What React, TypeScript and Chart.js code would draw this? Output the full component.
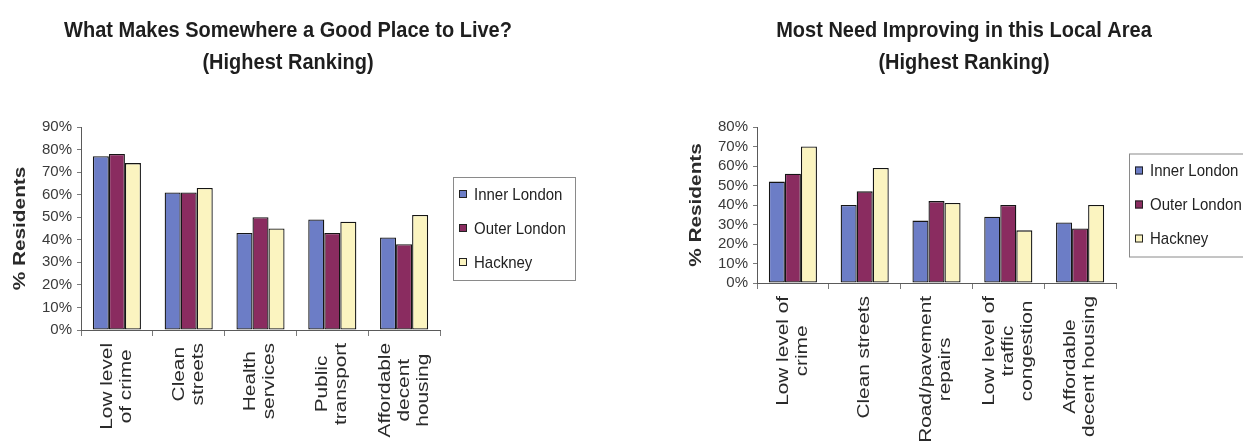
import React, { useEffect, useRef } from "react";
import { Chart, registerables } from "chart.js";

Chart.register(...registerables);

// Series shared by both panels
const SERIES_NAMES = ["Inner London", "Outer London", "Hackney"];
const SERIES_COLORS = ["#6C7DC6", "#8A2C60", "#FBF4C0"];

// Panel 1: what makes somewhere a good place to live
const GOOD_TITLE = ["What Makes Somewhere a Good Place to Live?", "(Highest Ranking)"];
const GOOD_CATEGORIES = [
  ["Low level", "of crime"],
  ["Clean", "streets"],
  ["Health", "services"],
  ["Public", "transport"],
  ["Affordable", "decent", "housing"],
];
const GOOD_INNER = [77, 61, 43, 49, 41];
const GOOD_OUTER = [78, 61, 50, 43, 38];
const GOOD_HACKNEY = [74, 63, 45, 48, 51];
const GOOD_Y_MAX = 90;

// Panel 2: what most needs improving locally
const IMPROVE_TITLE = ["Most Need Improving in this Local Area", "(Highest Ranking)"];
const IMPROVE_CATEGORIES = [
  ["Low level of", "crime"],
  ["Clean streets"],
  ["Road/pavement", "repairs"],
  ["Low level of", "traffic", "congestion"],
  ["Affordable", "decent housing"],
];
const IMPROVE_INNER = [52, 40, 32, 34, 31];
const IMPROVE_OUTER = [56, 47, 42, 40, 28];
const IMPROVE_HACKNEY = [70, 59, 41, 27, 40];
const IMPROVE_Y_MAX = 80;

const Y_TITLE = "% Residents";
const FONT = '"Liberation Sans", Arial, sans-serif';
const STRETCH = 1.3; // rotated captions are drawn elongated along their reading direction
const TALL = 1.12; // horizontal captions are drawn slightly taller than wide

const W = 576;
const H = 441;
const PLOT_TOP = 127;
const AXIS_LEFT = 81;
const PLOT_RIGHT = 440;

function tallText(ctx: CanvasRenderingContext2D, text: string, x: number, y: number) {
  ctx.save();
  ctx.translate(x, y);
  ctx.scale(1, TALL);
  ctx.fillText(text, 0, 0);
  ctx.restore();
}

const decorPlugin = {
  id: "panelDecor",
  afterDraw(chart: any, _args: any, opts: any) {
    const { ctx, chartArea } = chart;
    const xScale = chart.scales.x;
    ctx.save();

    // Title
    ctx.fillStyle = "#1e1e1e";
    ctx.font = `bold 20px ${FONT}`;
    ctx.textAlign = "center";
    ctx.textBaseline = "alphabetic";
    const cx = chart.width / 2;
    (opts.title as string[]).forEach((line, i) => tallText(ctx, line, cx, 37 + i * 32));

    // Y axis caption
    const midY = (chartArea.top + chartArea.bottom) / 2;
    ctx.save();
    ctx.translate(21, midY);
    ctx.rotate(-Math.PI / 2);
    ctx.scale(STRETCH, 1);
    ctx.font = `bold 16px ${FONT}`;
    ctx.textAlign = "center";
    ctx.textBaseline = "middle";
    ctx.fillStyle = "#2a2a2a";
    ctx.fillText(Y_TITLE, 0, 0);
    ctx.restore();

    // Category captions, rotated, lines centred on each other
    ctx.font = `16px ${FONT}`;
    ctx.fillStyle = "#2a2a2a";
    const labelTop = chartArea.bottom + 13;
    const lineH = 19;
    (chart.data.labels as string[][]).forEach((lines, i) => {
      const x = xScale.getPixelForValue(i);
      const maxW = Math.max(...lines.map((l) => ctx.measureText(l).width));
      ctx.save();
      ctx.translate(x, labelTop);
      ctx.rotate(-Math.PI / 2);
      ctx.scale(STRETCH, 1);
      ctx.textAlign = "center";
      ctx.textBaseline = "middle";
      lines.forEach((line, j) => {
        ctx.fillText(line, -maxW / 2, (j - (lines.length - 1) / 2) * lineH);
      });
      ctx.restore();
    });

    // Legend box
    const boxW = 122;
    const boxH = 103;
    const bx = chartArea.right + 13;
    const by = midY - boxH / 2;
    ctx.strokeStyle = "#8a8a8a";
    ctx.lineWidth = 1;
    ctx.strokeRect(bx + 0.5, by + 0.5, boxW, boxH);
    ctx.font = `15px ${FONT}`;
    ctx.textAlign = "left";
    ctx.textBaseline = "middle";
    chart.data.datasets.forEach((ds: any, i: number) => {
      const y = by + 17 + i * 34;
      ctx.fillStyle = ds.backgroundColor;
      ctx.fillRect(bx + 6, y - 4, 8, 8);
      ctx.strokeStyle = "#222";
      ctx.strokeRect(bx + 6.5, y - 3.5, 7, 7);
      ctx.fillStyle = "#222";
      tallText(ctx, ds.label, bx + 21, y + 1);
    });

    ctx.restore();
  },
};

type PanelProps = {
  left: number;
  title: string[];
  categories: string[][];
  values: number[][];
  yMax: number;
  plotBottom: number;
};

function Panel({ left, title, categories, values, yMax, plotBottom }: PanelProps) {
  const ref = useRef<HTMLCanvasElement>(null);

  useEffect(() => {
    if (!ref.current) return;
    const chart = new Chart(ref.current, {
      type: "bar",
      data: {
        labels: categories,
        datasets: values.map((v, i) => ({
          label: SERIES_NAMES[i],
          data: v,
          backgroundColor: SERIES_COLORS[i],
          borderColor: "#151515",
          borderWidth: 1.3,
          borderSkipped: false,
          categoryPercentage: 0.67,
          barPercentage: 1.0,
        })),
      },
      options: {
        animation: false,
        responsive: false,
        devicePixelRatio: 1,
        layout: { padding: { top: PLOT_TOP, left: 0, right: W - PLOT_RIGHT, bottom: 0 } },
        plugins: {
          legend: { display: false },
          title: { display: false },
          tooltip: { enabled: false },
          panelDecor: { title },
        } as any,
        scales: {
          x: {
            grid: {
              display: true,
              drawOnChartArea: false,
              offset: true,
              tickLength: 6,
              color: "#7a7a7a",
            },
            border: { display: true, color: "#5a5a5a", width: 1 },
            ticks: { display: false },
            afterFit: (scale: any) => {
              scale.height = H - plotBottom;
            },
          },
          y: {
            min: 0,
            max: yMax,
            ticks: {
              stepSize: 10,
              autoSkip: false,
              padding: 5,
              color: "#3a3a3a",
              font: { family: FONT, size: 15 },
              callback: (v: any) => `${v}%`,
            },
            grid: { drawOnChartArea: false, tickLength: 4, color: "#7a7a7a" },
            border: { display: true, color: "#5a5a5a", width: 1 },
            afterFit: (scale: any) => {
              scale.width = AXIS_LEFT;
            },
          },
        },
      },
      plugins: [decorPlugin],
    });
    return () => chart.destroy();
  }, []);

  return (
    <canvas
      ref={ref}
      width={W}
      height={H}
      style={{ position: "absolute", left, top: 0, width: W, height: H }}
    />
  );
}

export default function App() {
  return (
    <div
      style={{
        position: "absolute",
        left: 0,
        top: 0,
        width: 1243,
        height: 441,
        overflow: "hidden",
        background: "#ffffff",
      }}
    >
      <Panel
        left={0}
        title={GOOD_TITLE}
        categories={GOOD_CATEGORIES}
        values={[GOOD_INNER, GOOD_OUTER, GOOD_HACKNEY]}
        yMax={GOOD_Y_MAX}
        plotBottom={330}
      />
      <Panel
        left={676}
        title={IMPROVE_TITLE}
        categories={IMPROVE_CATEGORIES}
        values={[IMPROVE_INNER, IMPROVE_OUTER, IMPROVE_HACKNEY]}
        yMax={IMPROVE_Y_MAX}
        plotBottom={283}
      />
    </div>
  );
}
